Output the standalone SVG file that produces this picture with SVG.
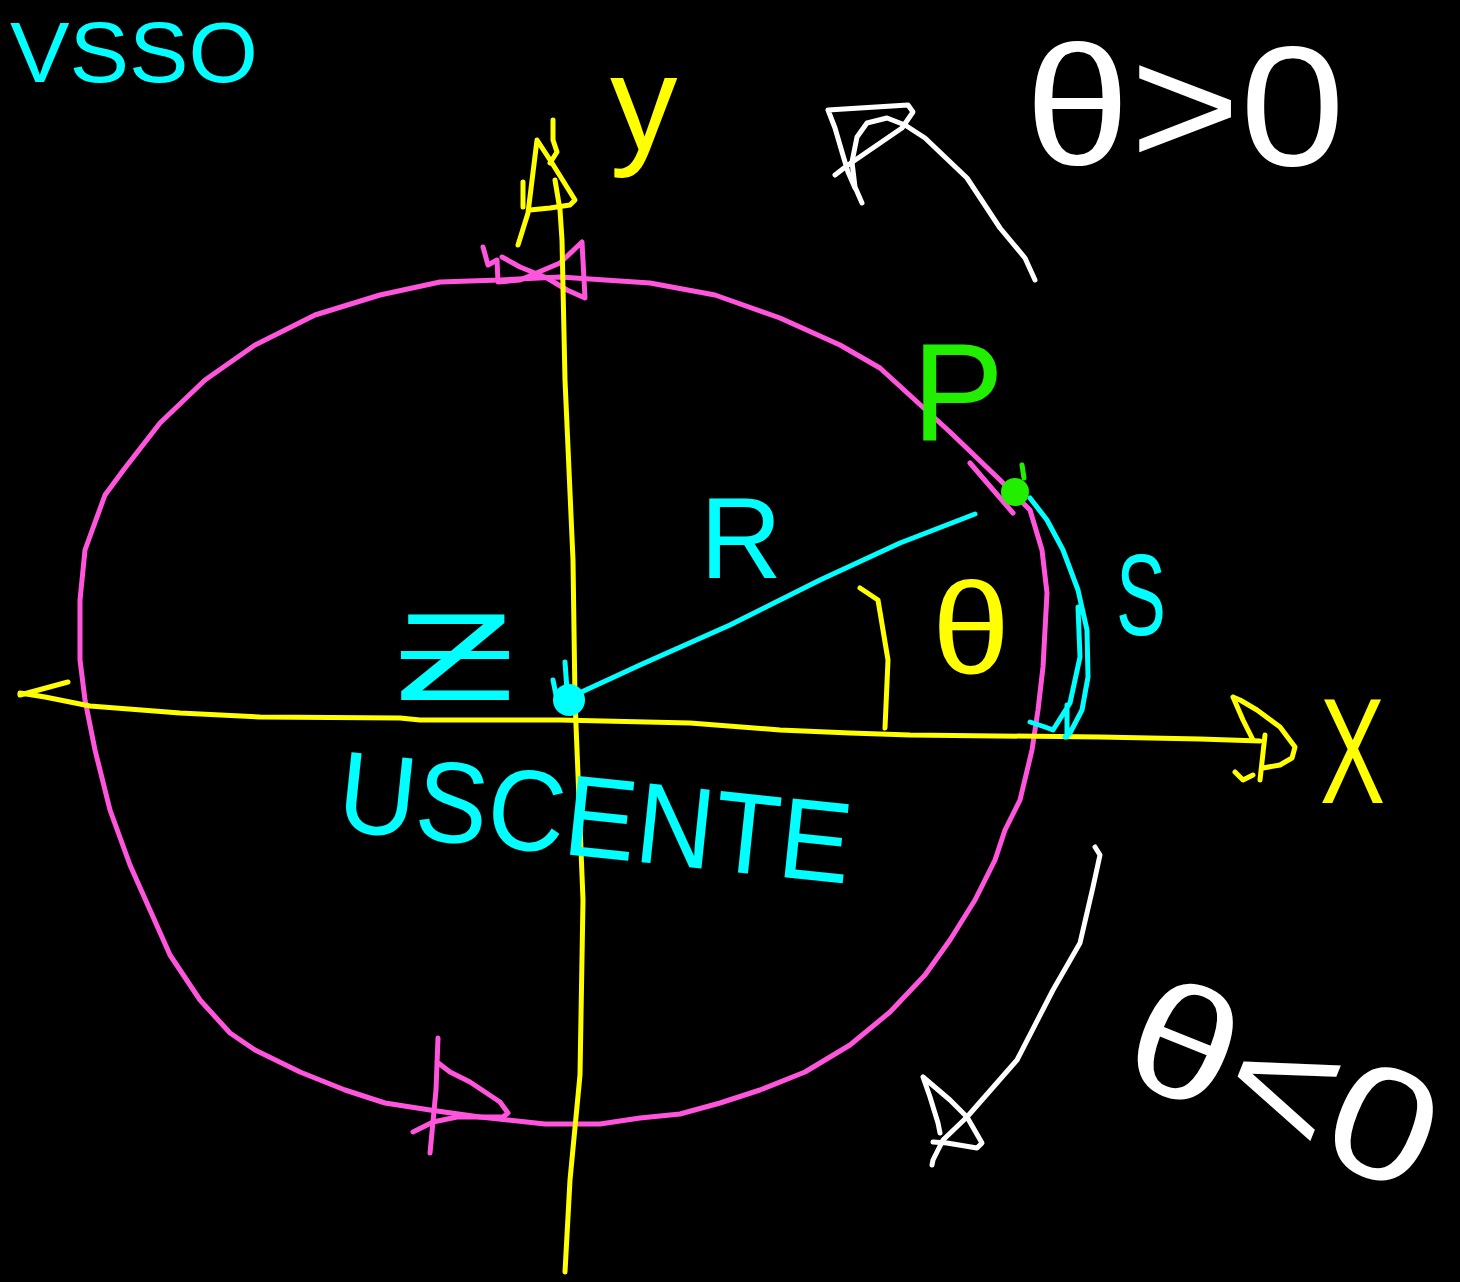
<svg xmlns="http://www.w3.org/2000/svg" width="1460" height="1282" viewBox="0 0 1460 1282">
<style>
.s{fill:none;stroke-width:5;stroke-linecap:round;stroke-linejoin:round}
.y{stroke:#ffff00}.m{stroke:#ff55dd}.c{stroke:#00ffff}.w{stroke:#ffffff}.g{stroke:#22ee00}
.t{font-family:"Liberation Sans","DejaVu Sans",sans-serif}
</style>
<rect width="1460" height="1282" fill="#000"/>
<g id="circle">
<path class="s m" d="M500,280 L560,277 L650,283 L715,295 L780,318 L840,345 L880,368 L950,432 L1000,480 L1030,510 L1042,550 L1047,593 L1045,630 L1043,667 L1038,710 L1032,750 L1020,800 L1005,830 L995,860 L975,900 L950,940 L925,975 L890,1012 L850,1045 L805,1072 L760,1090 L720,1103 L680,1114 L640,1118 L600,1124 L545,1124 L480,1117 L430,1110 L385,1103 L345,1090 L300,1072 L255,1050 L230,1033 L200,1000 L170,955 L150,910 L130,865 L110,810 L95,750 L85,700 L80,660 L80,600 L85,550 L105,495 L125,468 L160,423 L205,380 L255,345 L315,315 L380,295 L440,282 L500,280"/>
<path class="s m" d="M970,463 L1013,513"/>
<path class="s m" d="M483,247 L488,265 L497,260 L498,282 L520,280 L560,263 L582,242 L585,298 L567,290 L547,278 L520,267 L502,257"/>
<path class="s m" d="M438,1038 L436,1090 L430,1153 M437,1062 L450,1072 L470,1082 L500,1102 L508,1113 L503,1117 L457,1117 L433,1122 L413,1132"/>
</g>
<g id="axes">
<path class="s y" d="M553,120 L553,140 L557,152 L550,163 M555,180 L560,210 L562,240 L565,380 L573,560 L575,700 L583,900 L580,1075 L570,1180 L565,1272"/>
<path class="s y" d="M518,245 L528,213 L537,140 L552,163 L575,200 L570,205 L550,208 L530,210 M523,182 L523,207"/>
<path class="s y" d="M20,693 L45,697 L90,706 L180,713 L260,717 L400,718 L420,720 L560,720 L690,723 L780,730 L850,733 L910,735 L1100,737 L1200,739 L1260,741"/>
<path class="s y" d="M20,695 L68,682"/>
<path class="s y" d="M1233,697 L1240,700 L1257,710 L1280,727 L1295,747 L1292,758 L1280,765 L1263,768 M1233,697 L1243,720 L1253,740 M1265,735 L1260,780 M1235,772 L1243,780 L1253,775"/>
<path class="s y" d="M860,588 L878,600 L888,660 L885,728"/>
</g>
<g id="radius">
<path class="s c" d="M575,695 L640,665 L730,625 L820,580 L900,543 L975,514"/>
<circle cx="569" cy="700" r="16" fill="#00ffff"/>
<path class="s c" d="M565,662 L567,690 M553,680 L556,695"/>
<path class="s c" d="M1030,498 L1047,520 L1063,550 L1078,590 L1087,630 L1088,677 L1082,710 L1070,733 L1065,737 M1078,607 L1080,657 L1070,703 L1053,730 L1045,727 L1030,722 M1067,705 L1067,737"/>
<circle cx="1015" cy="492" r="14" fill="#22ee00"/>
<path class="s g" d="M1022,465 L1024,478"/>
</g>
<g id="arrows">
<path class="s w" d="M1035,280 L1025,258 L1000,228 L967,178 L925,138 L905,125 L887,118 L867,123 L857,137 L852,162 L855,187 L862,203"/>
<path class="s w" d="M828,110 L908,105 L913,112 L902,128 L848,165 L835,175 M828,110 L835,128 L842,152 L848,172 L855,188"/>
<path class="s w" d="M1095,847 L1100,855 L1093,887 L1080,943 L1053,990 L1017,1060 L967,1117 L943,1140 L933,1160 L932,1165"/>
<path class="s w" d="M923,1077 L950,1100 L967,1117 L982,1143 L977,1148 L947,1143 L933,1142 M923,1077 L930,1097 L938,1123 L940,1133"/>
</g>
<g id="labels">
<text class="t" x="10" y="82" font-size="85" fill="#00ffff" textLength="248" lengthAdjust="spacingAndGlyphs">VSSO</text>
<text class="t" x="610" y="150" font-size="135" fill="#ffff00">y</text>
<text class="t" x="1320" y="803" font-size="150" fill="#ffff00" textLength="65" lengthAdjust="spacingAndGlyphs">X</text>
<text class="t" x="932" y="673" font-size="130" fill="#ffff00" textLength="78" lengthAdjust="spacingAndGlyphs">θ</text>
<text class="t" x="1025" y="165" font-size="170" fill="#ffffff" textLength="320" lengthAdjust="spacingAndGlyphs">θ&gt;0</text>
<text class="t" font-size="160" fill="#ffffff" textLength="320" lengthAdjust="spacingAndGlyphs" transform="translate(1115,1075) rotate(22)">θ&lt;0</text>
<text class="t" x="912" y="440" font-size="140" fill="#22ee00" textLength="92" lengthAdjust="spacingAndGlyphs">P</text>
<text class="t" x="700" y="578" font-size="115" fill="#00ffff" textLength="82" lengthAdjust="spacingAndGlyphs">R</text>
<text class="t" x="1116" y="635" font-size="115" fill="#00ffff" textLength="50" lengthAdjust="spacingAndGlyphs">S</text>
<text class="t" x="395" y="700" font-size="125" fill="#00ffff" textLength="120" lengthAdjust="spacingAndGlyphs">Ƶ</text>
<text class="t" font-size="115" fill="#00ffff" textLength="515" lengthAdjust="spacingAndGlyphs" transform="translate(335,830) rotate(6)">USCENTE</text>
</g>
</svg>
